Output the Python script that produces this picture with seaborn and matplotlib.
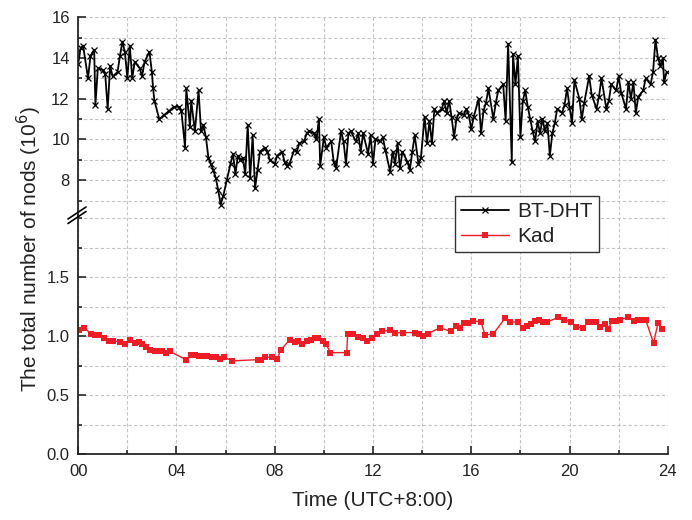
import numpy as np
import pandas as pd
import seaborn as sns
import matplotlib.pyplot as plt
from matplotlib.lines import Line2D
from matplotlib.ticker import MultipleLocator

# BT-DHT total nodes (10^6)
bt_hour = [0.0, 0.1, 0.2, 0.4, 0.5, 0.65, 0.7, 0.8, 1.0, 1.1, 1.2, 1.3, 1.4, 1.6, 1.7, 1.8, 1.9,
           2.0, 2.1, 2.2, 2.3, 2.5, 2.6, 2.7, 2.9, 3.0, 3.05, 3.1, 3.3, 3.5, 3.7, 3.9, 4.1, 4.2,
           4.35, 4.4, 4.55, 4.6, 4.75, 4.9, 5.0, 5.1, 5.2, 5.3, 5.4, 5.5, 5.6, 5.7, 5.8, 5.9,
           6.05, 6.2, 6.3, 6.4, 6.5, 6.6, 6.7, 6.8, 6.9, 7.0, 7.1, 7.2, 7.3, 7.4, 7.6, 7.7, 7.8,
           8.0, 8.1, 8.3, 8.4, 8.5, 8.6, 8.8, 8.9, 9.0, 9.2, 9.3, 9.4, 9.6, 9.7, 9.8, 9.85,
           10.0, 10.1, 10.3, 10.4, 10.5, 10.7, 10.8, 10.9, 11.0, 11.1, 11.3, 11.4, 11.5, 11.6,
           11.8, 11.9, 12.0, 12.1, 12.3, 12.4, 12.5, 12.7, 12.8, 12.9, 13.0, 13.1, 13.2, 13.4,
           13.5, 13.6, 13.7, 13.85, 13.95, 14.1, 14.2, 14.3, 14.4, 14.5, 14.6, 14.8, 14.9, 15.0,
           15.1, 15.2, 15.3, 15.4, 15.5, 15.7, 15.8, 15.9, 16.0, 16.1, 16.3, 16.4, 16.5, 16.6,
           16.7, 16.9, 17.0, 17.1, 17.3, 17.4, 17.5, 17.65, 17.7, 17.8, 17.9, 18.0, 18.1, 18.2,
           18.3, 18.4, 18.5, 18.6, 18.7, 18.8, 18.9, 19.0, 19.1, 19.2, 19.3, 19.4, 19.5, 19.7,
           19.8, 19.9, 20.0, 20.1, 20.2, 20.4, 20.5, 20.6, 20.8, 20.9, 21.1, 21.2, 21.3, 21.5,
           21.6, 21.7, 21.9, 22.0, 22.1, 22.3, 22.4, 22.5, 22.6, 22.7, 22.8, 23.0, 23.1, 23.3,
           23.4, 23.5, 23.6, 23.7, 23.8, 23.85, 23.95]
bt_nodes = [13.7, 14.5, 14.6, 13.0, 14.1, 14.4, 11.7, 13.5, 13.4, 13.2, 11.5, 13.6, 13.1, 13.3, 14.1, 14.8, 14.3,
            13.0, 14.6, 13.0, 13.8, 13.5, 13.1, 13.8, 14.3, 13.3, 12.5, 11.9, 11.0, 11.2, 11.4, 11.6, 11.6, 11.4,
            9.6, 12.5, 10.6, 11.9, 10.4, 12.4, 10.4, 10.7, 10.1, 9.1, 8.8, 8.5, 8.1, 7.5, 6.8, 7.2,
            8.0, 8.8, 9.3, 8.3, 9.2, 9.0, 9.1, 8.3, 10.7, 8.1, 10.2, 7.6, 8.5, 9.4, 9.6, 9.4, 9.0,
            8.8, 9.2, 9.4, 8.9, 8.7, 8.8, 9.5, 9.4, 9.8, 9.9, 10.3, 10.4, 10.3, 10.0, 11.0, 8.7,
            10.1, 9.6, 9.9, 8.9, 8.6, 10.4, 9.9, 8.8, 10.3, 10.4, 9.9, 10.3, 9.4, 10.3,
            9.3, 10.2, 8.8, 10.0, 9.9, 10.1, 9.5, 8.4, 9.4, 8.8, 9.8, 8.6, 9.4, 8.9,
            8.5, 9.4, 10.2, 8.8, 9.1, 11.1, 9.8, 10.9, 9.8, 11.5, 11.3, 11.5, 11.9, 11.3,
            11.9, 11.1, 10.1, 11.0, 11.3, 11.2, 11.5, 11.2, 10.5, 11.1, 12.0, 10.3, 11.4, 11.8,
            12.5, 11.0, 11.8, 12.4, 12.7, 10.9, 14.7, 8.9, 14.2, 12.7, 14.1, 10.1, 11.9, 12.4,
            11.6, 11.0, 10.4, 9.9, 10.9, 10.3, 11.0, 10.4, 10.8, 9.2, 10.3, 10.8, 11.5, 11.3,
            11.7, 12.5, 11.6, 10.8, 12.9, 12.0, 11.0, 11.8, 13.1, 12.2, 11.5, 12.1, 13.0, 11.5,
            11.9, 12.7, 12.4, 13.1, 12.3, 11.5, 12.8, 12.0, 12.8, 11.3, 12.1, 12.4, 13.0, 12.7,
            13.3, 14.9, 14.0, 13.6, 14.0, 12.8, 13.3]

# Kad total nodes (10^6)
kad_hour = [0.03, 0.23, 0.54, 0.70, 0.86, 1.04, 1.24, 1.41, 1.72, 1.89, 2.09, 2.30, 2.46, 2.59, 2.76,
            2.91, 3.11, 3.27, 3.43, 3.58, 3.74, 4.39, 4.59, 4.76, 4.92, 5.09, 5.26, 5.43, 5.59, 5.77,
            5.95, 6.27, 7.30, 7.43, 7.62, 7.89, 8.11, 8.24, 8.61, 8.81, 8.95, 9.11, 9.31, 9.49, 9.62,
            9.78, 9.96, 10.09, 10.27, 10.93, 10.97, 11.18, 11.38, 11.58, 11.76, 11.95, 12.16, 12.37,
            12.70, 12.91, 13.22, 13.69, 13.89, 14.03, 14.22, 14.73, 15.18, 15.38, 15.55, 15.72, 15.88,
            16.06, 16.40, 16.56, 16.90, 17.37, 17.58, 17.89, 18.09, 18.28, 18.45, 18.59, 18.76, 18.93,
            19.10, 19.54, 19.77, 20.05, 20.25, 20.55, 20.76, 20.93, 21.09, 21.26, 21.43, 21.57, 21.74,
            21.91, 22.07, 22.38, 22.61, 22.79, 22.92, 23.10, 23.42, 23.60, 23.77]
kad_nodes = [1.05, 1.07, 1.02, 1.01, 1.01, 0.98, 0.96, 0.96, 0.95, 0.93, 0.97, 0.94, 0.95, 0.93, 0.91,
             0.88, 0.87, 0.87, 0.87, 0.86, 0.87, 0.80, 0.84, 0.84, 0.83, 0.83, 0.83, 0.82, 0.82, 0.81,
             0.82, 0.79, 0.80, 0.80, 0.82, 0.82, 0.81, 0.88, 0.97, 0.95, 0.96, 0.93, 0.96, 0.97, 0.98,
             0.98, 0.96, 0.93, 0.86, 0.86, 1.02, 1.02, 0.99, 0.98, 0.96, 0.98, 1.02, 1.04,
             1.05, 1.03, 1.03, 1.03, 1.02, 1.00, 1.02, 1.07, 1.04, 1.09, 1.07, 1.11, 1.11,
             1.13, 1.12, 1.01, 1.02, 1.15, 1.12, 1.12, 1.07, 1.09, 1.10, 1.13, 1.14, 1.12,
             1.12, 1.16, 1.14, 1.12, 1.08, 1.07, 1.12, 1.12, 1.12, 1.08, 1.10, 1.06, 1.13,
             1.13, 1.14, 1.16, 1.13, 1.14, 1.14, 1.14, 0.94, 1.11, 1.06]

x_ticks = [0, 4, 8, 12, 16, 20, 24]
x_labels = ['00', '04', '08', '12', '16', '20', '24']
top_ticks = [8, 10, 12, 14, 16]
bot_ticks = [0.0, 0.5, 1.0, 1.5]

bt = pd.DataFrame({'hour': bt_hour, 'nodes': bt_nodes})
kad = pd.DataFrame({'hour': kad_hour, 'nodes': kad_nodes})

sns.set_style('ticks')
plt.rcParams['font.family'] = ['Liberation Sans', 'DejaVu Sans']
text_color = '#222222'

fig = plt.figure(figsize=(6.92, 5.2), dpi=100)
ax_top = fig.add_axes([0.113, 0.587, 0.852, 0.380])
ax_bot = fig.add_axes([0.113, 0.127, 0.852, 0.460])

red = '#ee1c25'
sns.lineplot(data=bt, x='hour', y='nodes', ax=ax_top, estimator=None, sort=False,
             color='black', linewidth=1.3, marker='x', markersize=5, markeredgewidth=0.9,
             markeredgecolor='black', label='BT-DHT', legend=False)
sns.lineplot(data=kad, x='hour', y='nodes', ax=ax_bot, estimator=None, sort=False,
             color=red, linewidth=1.0, marker='s', markersize=4.8, markeredgewidth=0,
             label='Kad', legend=False)

grid_kw = dict(color='#c4c4c4', linestyle=(0, (3, 2)), linewidth=0.8)
for ax in (ax_top, ax_bot):
    ax.set_xlim(0, 24)
    ax.xaxis.set_major_locator(plt.FixedLocator(x_ticks))
    ax.xaxis.set_minor_locator(MultipleLocator(2))
    ax.grid(True, which='both', **grid_kw)
    ax.set_axisbelow(True)
    ax.spines['top'].set_visible(False)
    ax.spines['right'].set_visible(False)
    ax.spines['left'].set_linewidth(1.3)
    ax.spines['bottom'].set_linewidth(1.3)
    ax.tick_params(which='major', direction='in', length=6, width=1.2, labelsize=12,
                   labelcolor=text_color)
    ax.tick_params(which='minor', direction='in', length=3, width=1.2)
    ax.tick_params(axis='y', which='major', pad=6)
    ax.tick_params(axis='x', which='major', pad=7)
    ax.set_ylabel('')

ax_top.set_ylim(6.3, 16)
ax_top.set_yticks(top_ticks)
ax_top.set_yticklabels([str(t) for t in top_ticks])
ax_top.yaxis.set_minor_locator(MultipleLocator(1))
ax_top.spines['bottom'].set_visible(False)
ax_top.tick_params(axis='x', which='both', bottom=False, labelbottom=False)
ax_top.set_xlabel('')

ax_bot.set_ylim(0, 2.03)
ax_bot.set_yticks(bot_ticks)
ax_bot.set_yticklabels(['{:.1f}'.format(t) for t in bot_ticks])
ax_bot.yaxis.set_minor_locator(MultipleLocator(0.25))
ax_bot.set_xticklabels(x_labels)
ax_bot.set_xlabel('Time (UTC+8:00)', fontsize=15, labelpad=9, color=text_color)

# axis break marks on the left spine
W, H = 692.0, 520.0
for dy in (0, 4.5):
    fig.add_artist(Line2D([68 / W, 86 / W], [1 - (219 + dy) / H, 1 - (207 + dy) / H],
                          color='black', linewidth=1.2, transform=fig.transFigure))

fig.text(0.042, 0.52, 'The total number of nods (10$^6$)', rotation=90,
         ha='center', va='center', fontsize=15, color=text_color)

handles = [ax_top.get_lines()[0], ax_bot.get_lines()[0]]
leg = fig.legend(handles=handles, labels=['BT-DHT', 'Kad'], loc='upper left',
                 bbox_to_anchor=(0.657, 0.623), fontsize=15, fancybox=False,
                 framealpha=1, edgecolor='#333333', handlelength=2.3, numpoints=1,
                 borderpad=0.3, labelspacing=0.28, handletextpad=0.4, borderaxespad=0)
leg.get_frame().set_linewidth(1.0)
for t in leg.get_texts():
    t.set_color(text_color)

fig.savefig('out.png', dpi=100)
